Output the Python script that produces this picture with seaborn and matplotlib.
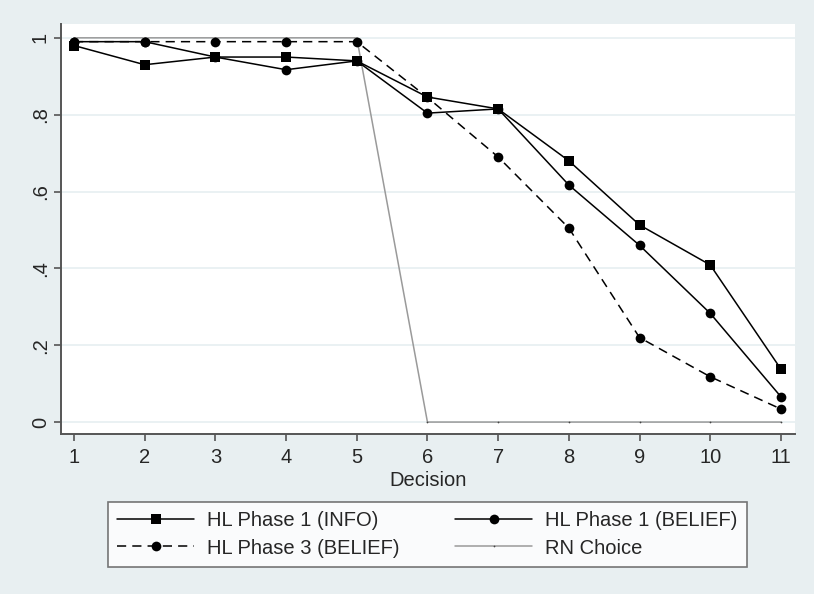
import matplotlib
matplotlib.use("Agg")
import matplotlib.pyplot as plt
import numpy as np
import pandas as pd
import seaborn as sns

decision = [1, 2, 3, 4, 5, 6, 7, 8, 9, 10, 11]
hl1_info = [0.98, 0.93, 0.95, 0.95, 0.94, 0.846, 0.815, 0.68, 0.513, 0.409, 0.138]
hl1_belief = [0.99, 0.99, 0.95, 0.917, 0.94, 0.804, 0.815, 0.617, 0.46, 0.283, 0.066]
hl3_belief = [0.99, 0.99, 0.99, 0.99, 0.99, 0.845, 0.69, 0.505, 0.22, 0.118, 0.034]
rn_choice = [1, 1, 1, 1, 1, 0, 0, 0, 0, 0, 0]

labels = ["HL Phase 1 (INFO)", "HL Phase 1 (BELIEF)", "HL Phase 3 (BELIEF)", "RN Choice"]
ytick_vals = [0, 0.2, 0.4, 0.6, 0.8, 1]
ytick_labels = ["0", ".2", ".4", ".6", ".8", "1"]

df = pd.DataFrame({
    "Decision": decision * 4,
    "value": hl1_info + hl1_belief + hl3_belief + rn_choice,
    "series": sum([[l] * len(decision) for l in labels], []),
})

sns.set_theme(style="white")
plt.rcParams["font.family"] = ["Liberation Sans", "DejaVu Sans"]

bg = "#e8eff1"
fs = 14.5
fig = plt.figure(figsize=(8.14, 5.94), dpi=100, facecolor=bg)
ax = fig.add_axes([0.0749, 0.2694, 0.9018, 0.6902])
ax.set_facecolor("white")

styles = {
    labels[0]: dict(color="black", marker="s", markersize=8, lw=1.1, ls="-"),
    labels[1]: dict(color="black", marker="o", markersize=8, lw=1.1, ls="-"),
    labels[2]: dict(color="black", marker="o", markersize=8, lw=1.1, ls=(0, (6, 4))),
    labels[3]: dict(color="#9a9a9a", marker=".", markersize=2.5, lw=1.1, ls="-",
                    markerfacecolor="#444444", markeredgecolor="#444444"),
}
# grey RN line first so the other series sit on top
for lab in [labels[3], labels[0], labels[1], labels[2]]:
    st = styles[lab]
    sub = df[df["series"] == lab]
    sns.lineplot(data=sub, x="Decision", y="value", ax=ax, label=lab,
                 color=st["color"], marker=st["marker"], markersize=st["markersize"],
                 linewidth=st["lw"], linestyle=st["ls"],
                 markerfacecolor=st.get("markerfacecolor", "black"),
                 markeredgecolor=st.get("markeredgecolor", "black"),
                 markeredgewidth=0, errorbar=None, sort=False)

ax.set_xlim(0.816, 11.2)
ax.set_ylim(-0.031, 1.036)
ax.set_xticks(decision)
ax.set_xticklabels([str(d) for d in decision], fontsize=fs)
ax.set_yticks(ytick_vals)
ax.set_yticklabels(ytick_labels, fontsize=fs, rotation=90, va="center")
ax.grid(axis="y", color="#e6eff1", lw=1.2)
ax.grid(axis="x", visible=False)
ax.set_axisbelow(True)
ax.set_xlabel("Decision", fontsize=fs, labelpad=3)
ax.set_ylabel("")

for side in ["top", "right"]:
    ax.spines[side].set_visible(False)
for side in ["left", "bottom"]:
    ax.spines[side].set_color("#555555")
    ax.spines[side].set_linewidth(1.4)
ax.tick_params(axis="x", which="major", direction="out", length=5, width=1.2,
               color="#555555", bottom=True, pad=5)
ax.tick_params(axis="y", which="major", direction="out", length=5, width=1.2,
               color="#555555", left=True, pad=3)

handles, labs = ax.get_legend_handles_labels()
by_label = dict(zip(labs, handles))
for l in labels[:3]:
    by_label[l].set_markersize(7)
# legend fills column by column, so interleave to get row order of the reference
leg_order = [labels[0], labels[2], labels[1], labels[3]]
ax.get_legend().remove()
leg = fig.legend([by_label[l] for l in leg_order], leg_order, ncol=2, mode="expand",
                 bbox_to_anchor=(0.1327, 0.0438, 0.7845, 0.1128), loc="center",
                 bbox_transform=fig.transFigure, fontsize=fs, frameon=True,
                 fancybox=False, edgecolor="#555555", facecolor="white",
                 handlelength=3.83, handletextpad=0.65, borderaxespad=0,
                 borderpad=0.45, labelspacing=0.4, columnspacing=2.0)
leg.get_frame().set_linewidth(1.2)

fig.savefig("out.png", dpi=100, facecolor=bg)
